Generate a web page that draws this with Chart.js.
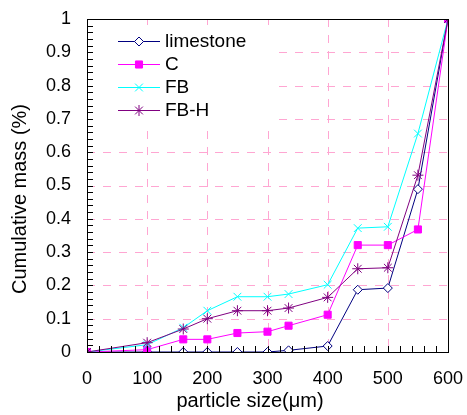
<!DOCTYPE html>
<html>
<head>
<meta charset="utf-8">
<script src="https://cdn.jsdelivr.net/npm/chart.js@4"></script>
<style>
  body { margin: 0; background: #fff; }
</style>
</head>
<body>
<canvas id="myChart" width="467" height="415"></canvas>
<script>
  // particle sizes (µm) and cumulative mass fractions
  const sizes = [0, 100, 160, 200, 250, 300, 335, 400, 450, 500, 550, 600];
  const limestone = [0, 0, 0, 0, 0, 0, 0.005, 0.018, 0.187, 0.192, 0.489, 1];
  const cMass = [0, 0.007, 0.038, 0.038, 0.057, 0.061, 0.079, 0.112, 0.321, 0.321, 0.368, 1];
  const fbMass = [0, 0.022, 0.073, 0.124, 0.166, 0.166, 0.174, 0.202, 0.372, 0.376, 0.656, 1];
  const fbhMass = [0, 0.028, 0.069, 0.100, 0.124, 0.124, 0.132, 0.164, 0.250, 0.253, 0.531, 1];

  const xTicks = [0, 100, 200, 300, 400, 500, 600];
  const yTicks = [0, 0.1, 0.2, 0.3, 0.4, 0.5, 0.6, 0.7, 0.8, 0.9, 1];

  const font = 'Liberation Sans';
  const gridPink = '#ffa6d2';
  const clear = 'rgba(0,0,0,0)';

  const toPoints = (vals) => sizes.map((s, i) => ({ x: s, y: vals[i] }));

  const series = [
    { label: 'limestone', data: limestone, color: '#000080', style: 'rectRot', r: 4.5, fill: '#ffffff', order: 4 },
    { label: 'C', data: cMass, color: '#ff00ff', style: 'rect', r: 5, fill: '#ff00ff', order: 3 },
    { label: 'FB', data: fbMass, color: '#00ffff', style: 'crossRot', r: 5.5, fill: '#00ffff', order: 2 },
    { label: 'FB-H', data: fbhMass, color: '#800080', style: 'star', r: 5.5, fill: '#800080', order: 1 },
  ];

  const datasets = series.map(s => ({
    label: s.label,
    data: toPoints(s.data),
    borderColor: s.color,
    backgroundColor: s.fill,
    borderWidth: 1,
    pointStyle: s.style,
    pointRadius: s.r,
    pointBorderColor: s.color,
    pointBackgroundColor: s.fill,
    pointBorderWidth: 1,
    tension: 0,
    order: s.order,
  }));

  // dashed grid, frame, inner ticks, legend box and axis titles
  const decor = {
    id: 'decor',
    beforeDatasetsDraw(chart) {
      const { ctx, chartArea: a, scales } = chart;
      ctx.save();
      ctx.strokeStyle = gridPink;
      ctx.lineWidth = 1;
      ctx.setLineDash([8, 8]);
      xTicks.forEach(v => {
        const px = Math.round(scales.x.getPixelForValue(v)) + 0.5;
        ctx.beginPath();
        ctx.moveTo(px, a.top);
        ctx.lineTo(px, a.bottom);
        ctx.stroke();
      });
      yTicks.forEach(v => {
        const py = Math.round(scales.y.getPixelForValue(v)) + 0.5;
        ctx.beginPath();
        ctx.moveTo(a.left, py);
        ctx.lineTo(a.right, py);
        ctx.stroke();
      });
      ctx.setLineDash([]);
      ctx.fillStyle = '#fff';
      ctx.fillRect(a.left + 1, a.top + 6, 183, 100);
      ctx.restore();
    },
    afterDatasetsDraw(chart) {
      const { ctx, chartArea: a, scales } = chart;
      ctx.save();
      ctx.strokeStyle = '#000';
      ctx.lineWidth = 1;
      ctx.strokeRect(a.left + 0.5, a.top + 0.5, a.right - a.left, a.bottom - a.top);

      // minor ticks pointing inward
      ctx.beginPath();
      for (let v = 0; v <= 600; v += 20) {
        const px = Math.round(scales.x.getPixelForValue(v)) + 0.5;
        ctx.moveTo(px, a.bottom);
        ctx.lineTo(px, a.bottom - 6);
      }
      for (let k = 0; k <= 50; k++) {
        const py = Math.round(scales.y.getPixelForValue(k / 50)) + 0.5;
        ctx.moveTo(a.left, py);
        ctx.lineTo(a.left + 6, py);
      }
      ctx.stroke();

      // legend
      const drawPoint = Chart.helpers && Chart.helpers.drawPoint;
      series.forEach((s, i) => {
        const y = a.top + 22 + i * 23;
        ctx.beginPath();
        ctx.strokeStyle = s.color;
        ctx.lineWidth = 1;
        ctx.moveTo(a.left + 31, y + 0.5);
        ctx.lineTo(a.left + 73, y + 0.5);
        ctx.stroke();
        if (drawPoint) {
          ctx.fillStyle = s.fill;
          ctx.strokeStyle = s.color;
          drawPoint(ctx, { pointStyle: s.style, radius: s.r, rotation: 0, borderWidth: 1 }, a.left + 52, y + 0.5);
        }
        ctx.fillStyle = '#000';
        ctx.font = '19px "' + font + '"';
        ctx.textAlign = 'left';
        ctx.textBaseline = 'middle';
        ctx.fillText(s.label, a.left + 78, y + 1);
      });

      // axis titles
      ctx.fillStyle = '#000';
      ctx.font = '20px "' + font + '"';
      ctx.textAlign = 'center';
      ctx.textBaseline = 'middle';
      ctx.fillText('particle size(μm)', 250, 401);
      ctx.translate(20, 199);
      ctx.rotate(-Math.PI / 2);
      ctx.fillText('Cumulative mass (%)', 0, 0);
      ctx.restore();
    }
  };

  const config = {
    type: 'line',
    data: { datasets: datasets },
    options: {
      responsive: false,
      animation: false,
      layout: { padding: { top: 19, right: 19, left: 0, bottom: 0 } },
      plugins: { legend: { display: false }, tooltip: { enabled: false } },
      scales: {
        x: {
          type: 'linear',
          min: 0,
          max: 600,
          afterBuildTicks: s => { s.ticks = xTicks.map(v => ({ value: v })); },
          afterFit: s => { s.height = 63; },
          grid: { color: clear, drawTicks: true, tickLength: 16, tickColor: clear },
          border: { display: false },
          ticks: { padding: 0, color: '#000', font: { family: font, size: 18 }, maxRotation: 0, autoSkip: false }
        },
        y: {
          type: 'linear',
          min: 0,
          max: 1,
          afterBuildTicks: s => { s.ticks = yTicks.map(v => ({ value: v })); },
          afterFit: s => { s.width = 87; },
          grid: { color: clear, drawTicks: true, tickLength: 16, tickColor: clear },
          border: { display: false },
          ticks: {
            padding: 0, color: '#000', font: { family: font, size: 18 }, autoSkip: false,
            callback: v => String(Math.round(v * 10) / 10)
          }
        }
      }
    },
    plugins: [decor]
  };

  const myChart = new Chart(document.getElementById('myChart'), config);
</script>
</body>
</html>
